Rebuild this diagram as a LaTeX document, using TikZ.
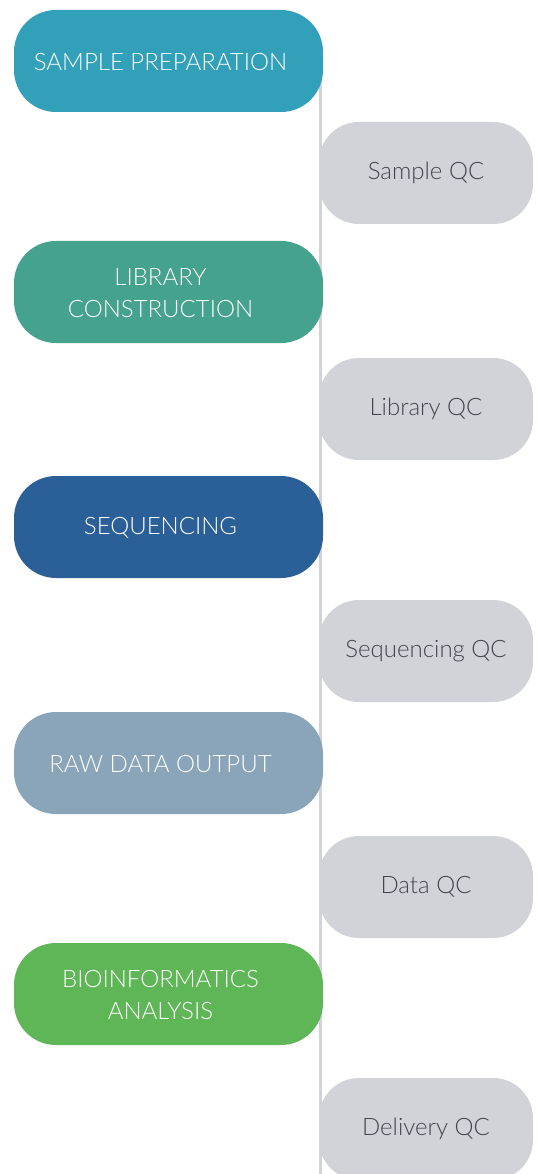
\documentclass[tikz,border=0pt]{standalone}
\usepackage{fontspec}
\setmainfont{Lato}[UprightFont={* Light}]
\usetikzlibrary{positioning}
\definecolor{prep}{HTML}{33A0B9}
\definecolor{lib}{HTML}{45A28C}
\definecolor{seq}{HTML}{2B5F98}
\definecolor{raw}{HTML}{8AA5B9}
\definecolor{bio}{HTML}{5FB657}
\definecolor{qcfill}{HTML}{D2D3D8}
\definecolor{qctext}{HTML}{404650}

\begin{document}
\begin{tikzpicture}[
  x=1pt, y=-1pt,
  font=\fontsize{24}{32}\selectfont,
  stage/.style={rounded corners=42pt, minimum width=309pt, minimum height=102pt, inner sep=0pt},
  stagetext/.style={text=white, align=center, xshift=-8pt, yshift=-1pt, inner sep=0pt},
  check/.style={rounded corners=40pt, fill=qcfill, text=qctext, align=center, minimum width=214pt, minimum height=102pt, inner sep=0pt},
]
\useasboundingbox (0,0) rectangle (538,1174);
\clip (0,0) rectangle (538,1174);
% spine behind the boxes
\coordinate (top) at (320.5,61);
\coordinate (end) at (320.5,1174);
\draw[qcfill, line width=3pt] (top) -- (end);
% main stages on the left
\node[stage, fill=prep, label={[stagetext]center:SAMPLE PREPARATION}] (s1) at (168.5,61) {};
\node[stage, fill=lib, label={[stagetext]center:LIBRARY\\CONSTRUCTION}] (s2) at (168.5,292) {};
\node[stage, fill=seq, label={[stagetext]center:SEQUENCING}] (s3) at (168.5,527) {};
\node[stage, fill=raw, label={[stagetext]center:RAW DATA OUTPUT}] (s4) at (168.5,763) {};
\node[stage, fill=bio, label={[stagetext]center:BIOINFORMATICS\\ANALYSIS}] (s5) at (168.5,994) {};
% quality checks on the right
\node[check] (q1) at (426,173) {Sample QC};
\node[check] (q2) at (426,409) {Library QC};
\node[check] (q3) at (426,651) {Sequencing QC};
\node[check] (q4) at (426,887) {Data QC};
\node[check] (q5) at (426,1129) {Delivery QC};
\end{tikzpicture}
\end{document}
